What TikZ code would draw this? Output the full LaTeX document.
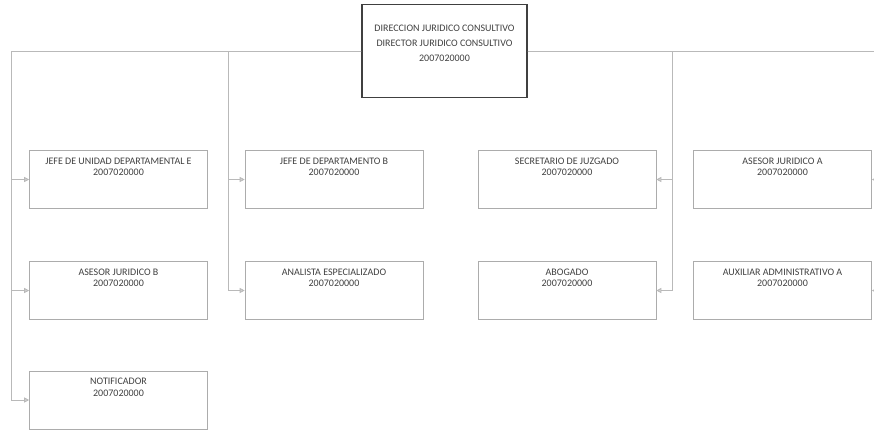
\documentclass[tikz,border=0pt]{standalone}
\usepackage{fontspec}
\setmainfont{Carlito}
\usetikzlibrary{arrows.meta}

\tikzset{
  puesto/.style={draw=gray!65, line width=0.6pt, fill=white, inner sep=0pt,
    minimum width=178pt, align=center, text=black!75,
    font=\fontsize{10}{11.5}\selectfont, text height=25pt, text depth=33pt},
  director/.style={draw=black!75, line width=1.4pt, fill=white, inner sep=0pt,
    minimum width=165pt, align=center, text=black!75,
    font=\fontsize{10}{15}\selectfont, text height=57pt, text depth=36pt},
  enlace/.style={draw=gray!55, line width=0.8pt,
    -{Triangle[length=5pt, width=5pt, fill=gray!35]}},
}

\begin{document}
\begin{tikzpicture}[x=1pt, y=-1pt]
  \useasboundingbox (0,0) rectangle (874,429);

  \node[director] (0) at (444.5,51) {DIRECCION JURIDICO CONSULTIVO\\DIRECTOR JURIDICO CONSULTIVO\\2007020000};

  \node[puesto] (1) at (118.5,179.5) {JEFE DE UNIDAD DEPARTAMENTAL E\\2007020000};
  \node[puesto] (2) at (118.5,290.5) {ASESOR JURIDICO B\\2007020000};
  \node[puesto] (3) at (118.5,400) {NOTIFICADOR\\2007020000};
  \node[puesto] (4) at (334,179.5) {JEFE DE DEPARTAMENTO B\\2007020000};
  \node[puesto] (5) at (334,290.5) {ANALISTA ESPECIALIZADO\\2007020000};
  \node[puesto] (6) at (567,179.5) {SECRETARIO DE JUZGADO\\2007020000};
  \node[puesto] (7) at (567,290.5) {ABOGADO\\2007020000};
  \node[puesto] (8) at (782.5,179.5) {ASESOR JURIDICO A\\2007020000};
  \node[puesto] (9) at (782.5,290.5) {AUXILIAR ADMINISTRATIVO A\\2007020000};

  % barras verticales del organigrama
  \coordinate (bA) at (11,0);
  \coordinate (bB) at (228,0);
  \coordinate (bC) at (672,0);
  \coordinate (bD) at (878,0);

  \draw[enlace] (0.west) -- (0.west -| bA) |- (1.west);
  \draw[enlace] (0.west) -- (0.west -| bA) |- (2.west);
  \draw[enlace] (0.west) -- (0.west -| bA) |- (3.west);
  \draw[enlace] (0.west) -- (0.west -| bB) |- (4.west);
  \draw[enlace] (0.west) -- (0.west -| bB) |- (5.west);
  \draw[enlace] (0.east) -- (0.east -| bC) |- (6.east);
  \draw[enlace] (0.east) -- (0.east -| bC) |- (7.east);
  \draw[enlace] (0.east) -- (0.east -| bD) |- (8.east);
  \draw[enlace] (0.east) -- (0.east -| bD) |- (9.east);
\end{tikzpicture}
\end{document}
